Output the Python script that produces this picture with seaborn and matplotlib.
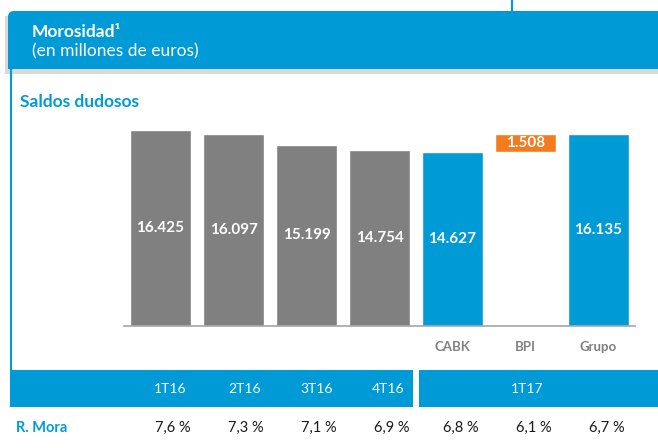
"""
Morosidad — saldos dudosos por trimestre (CABK + BPI = Grupo)
"""

import matplotlib.pyplot as plt
import pandas as pd
import seaborn as sns
from matplotlib.patches import FancyBboxPatch, Rectangle

# ── Data ───────────────────────────────────────────────────────────────────────
CATEGORIES = ["1T16", "2T16", "3T16", "4T16", "CABK", "BPI", "Grupo"]
SALDOS     = [16425, 16097, 15199, 14754, 14627, 1508, 16135]
KINDS      = ["hist", "hist", "hist", "hist", "cabk", "bpi", "grupo"]
X_LABELS   = ["", "", "", "", "CABK", "BPI", "Grupo"]

PERIODS    = ["1T16", "2T16", "3T16", "4T16", "1T17"]
MORA       = ["7,6 %", "7,3 %", "7,1 %", "6,9 %", "6,8 %", "6,1 %", "6,7 %"]

# ── Style ──────────────────────────────────────────────────────────────────────
BLUE   = "#009AD7"
GREY   = "#808080"
ORANGE = "#F47B20"
PALETTE = {"hist": GREY, "cabk": BLUE, "bpi": ORANGE, "grupo": BLUE}

W, H = 658, 448
sns.set_theme(style="white")
plt.rcParams["font.family"] = ["Lato", "DejaVu Sans"]

fig = plt.figure(figsize=(W / 100, H / 100), dpi=100)

# background canvas in pixel coordinates
bg = fig.add_axes([0, 0, 1, 1])
bg.set_xlim(0, W)
bg.set_ylim(H, 0)
bg.axis("off")

# header band (rounded top-left corner) + soft shadow
bg.add_patch(Rectangle((5, 16), 700, 58, color="#D9D9D9", lw=0))
bg.add_patch(FancyBboxPatch((8, 11), 700, 58, boxstyle="round,pad=0,rounding_size=6",
                            color=BLUE, lw=0))
bg.add_patch(Rectangle((8, 40), 700, 29, color=BLUE, lw=0))
bg.plot([512, 512], [0, 11], color=BLUE, lw=1.5, solid_capstyle="butt")
bg.plot([11, 11], [69, 371], color=BLUE, lw=1.5, solid_capstyle="butt")

bg.text(32, 32, "Morosidad¹", color="white", fontsize=12.5, fontweight="bold",
        va="center", ha="left")
bg.text(32, 51, "(en millones de euros)", color="white", fontsize=12.5,
        va="center", ha="left")
bg.text(20, 102, "Saldos dudosos", color=BLUE, fontsize=12.5, fontweight="bold",
        va="center", ha="left")

# bottom band with the period labels
bg.add_patch(Rectangle((10, 370), 403, 37, color=BLUE, lw=0))
bg.add_patch(Rectangle((419, 370), 250, 37, color=BLUE, lw=0))
for x, lab in zip([170, 245, 317, 388, 527], PERIODS):
    bg.text(x, 389, lab, color="white", fontsize=10, ha="center", va="center")

bg.text(16, 428, "R. Mora", color=BLUE, fontsize=10.5, fontweight="bold",
        ha="left", va="center")
for i, lab in enumerate(MORA):
    bg.text(173 + 73 * i - (4 if i > 3 else 0), 428, lab, color="#1A1A1A",
            fontsize=10.5, ha="center", va="center")

# ── Bars ───────────────────────────────────────────────────────────────────────
df = pd.DataFrame({"cat": CATEGORIES, "saldo": SALDOS, "kind": KINDS})

ax = fig.add_axes([124 / W, (H - 326) / H, 511 / W, 206 / H])
ax.patch.set_alpha(0)
sns.barplot(data=df, x="cat", y="saldo", hue="kind", palette=PALETTE,
            order=CATEGORIES, dodge=False, width=0.836, saturation=1,
            legend=False, ax=ax)
ax.set_xlim(-0.5, len(CATEGORIES) - 0.5)
ax.set_ylim(0, 17270)

# BPI floats on top of CABK (waterfall step)
for p in ax.patches:
    i = int(round(p.get_x() + p.get_width() / 2))
    if KINDS[i] == "bpi":
        p.set_y(SALDOS[CATEGORIES.index("CABK")])
    y_mid = p.get_y() + p.get_height() / 2
    ax.text(i, y_mid, f"{SALDOS[i]:,}".replace(",", "."), color="white",
            fontsize=11, fontweight="bold", ha="center", va="center")

for side in ["top", "right", "left"]:
    ax.spines[side].set_visible(False)
ax.spines["bottom"].set_color("#A6A6A6")
ax.spines["bottom"].set_linewidth(1.2)
ax.set_yticks([])
ax.set_xticks(range(len(CATEGORIES)))
ax.set_xticklabels(X_LABELS, color=GREY, fontsize=9.5, fontweight="bold")
ax.tick_params(axis="x", length=0, pad=11)
ax.set_xlabel("")
ax.set_ylabel("")

fig.savefig("out.png", dpi=100)
